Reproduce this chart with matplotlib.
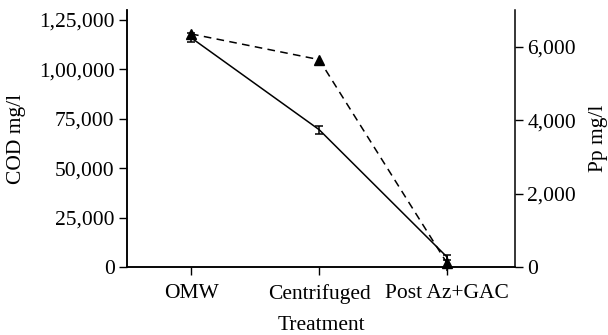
import numpy as np
import matplotlib.pyplot as plt

# treatment stages
stages = ["OMW", "Centrifuged", "Post Az+GAC"]

# COD (mg/l) with error
cod = [116000, 69500, 5000]
cod_err = [2200, 2000, 1300]

# polyphenols Pp (mg/l) with error
pp = [6350, 5650, 100]
pp_err = [60, 0, 200]

cod_ticks = [0, 25000, 50000, 75000, 100000, 125000]
cod_labels = ["0", "25,000", "50,000", "75,000", "1,00,000", "1,25,000"]
pp_ticks = [0, 2000, 4000, 6000]
pp_labels = ["0", "2,000", "4,000", "6,000"]

plt.rcParams['font.family'] = ['Liberation Serif', 'DejaVu Serif']
plt.rcParams['font.size'] = 15.5

fig = plt.figure(figsize=(6.08, 3.35), dpi=100)
ax = fig.add_axes([0.209, 0.203, 0.638, 0.767])
x = np.arange(len(stages))

ax.errorbar(x, cod, yerr=cod_err, color="black", lw=1.1, capsize=3,
            capthick=1.1, elinewidth=1.1)
ax.set_xlim(-0.5, 2.53)
ax.set_ylim(0, 130000)
ax.set_yticks(cod_ticks)
ax.set_yticklabels(cod_labels)
ax.set_xticks(x)
ax.set_xticklabels(stages)
ax.set_ylabel("COD mg/l", labelpad=9)
ax.set_xlabel("Treatment", labelpad=9)

ax2 = ax.twinx()
ax2.errorbar(x, pp, yerr=pp_err, color="black", lw=1.1, ls=(0, (5, 3.5)),
             marker="^", ms=7, capsize=0, elinewidth=1.1)
ax2.set_ylim(0, 7000)
ax2.set_yticks(pp_ticks)
ax2.set_yticklabels(pp_labels)
ax2.set_ylabel("Pp mg/l", labelpad=9)
for line in ax2.lines + [c for c in ax2.collections]:
    line.set_clip_on(False)

for a in (ax, ax2):
    a.spines["top"].set_visible(False)
    a.tick_params(direction="out", length=6, width=1, pad=3)
    for s in a.spines.values():
        s.set_linewidth(1.1)
ax.tick_params(axis="x", pad=6)
ax.spines["right"].set_visible(False)

fig.savefig("out.png", dpi=100)
